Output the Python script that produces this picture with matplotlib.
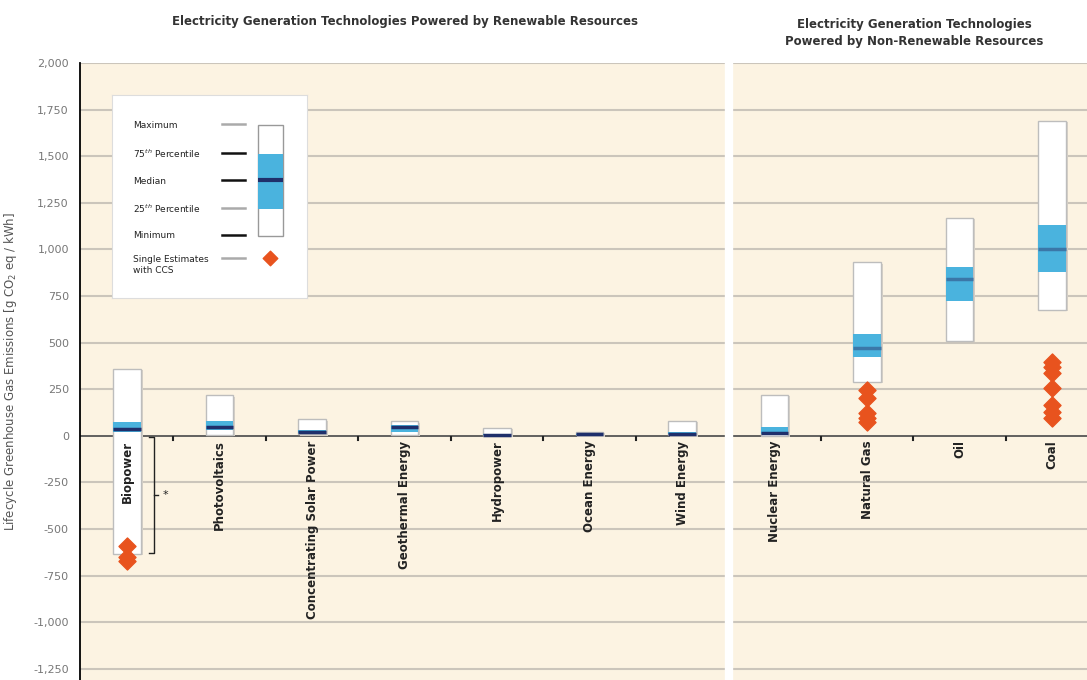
import numpy as np
import matplotlib.pyplot as plt
from matplotlib.patches import Rectangle

# Données (g CO2 eq / kWh)
categories = ['Biopower', 'Photovoltaics', 'Concentrating Solar Power', 'Geothermal Energy',
              'Hydropower', 'Ocean Energy', 'Wind Energy',
              'Nuclear Energy', 'Natural Gas', 'Oil', 'Coal']
v_min = [-633, 5, 7, 6, 0, 2, 2, 1, 290, 510, 675]
v_p25 = [18, 29, 14, 20, 3, 6, 8, 8, 422, 722, 877]
v_med = [37, 46, 22, 45, 4, 8, 12, 16, 469, 840, 1001]
v_p75 = [75, 80, 32, 57, 7, 9, 20, 45, 548, 907, 1130]
v_max = [360, 217, 89, 79, 43, 23, 81, 220, 930, 1170, 1689]

# Estimations avec CCS
ccs_bio = [-590, -650, -670]
ccs_gas = [245, 205, 120, 95, 75]
ccs_coal = [396, 370, 335, 255, 165, 125, 98]

yticks = np.arange(-1250, 2001, 250)

bg = '#FCF3E2'
blue = '#4AB3DE'
navy = '#1F2F6B'
steel = '#3B77A8'
orange = '#E8531E'

fig = plt.figure(figsize=(10.87, 6.8), dpi=100)
ax = fig.add_axes([0.0736, 0.0, 0.9264, 0.9074])
ax.set_facecolor(bg)
ax.set_xlim(-0.508, 10.378)
ax.set_ylim(-1310, 2000)

for y in yticks:
    if y == 0:
        continue
    ax.axhline(y, color='#CBC5BB', lw=1.5, zorder=1)
ax.axhline(0, color='#555555', lw=1.3, zorder=2)
ax.axvline(6.51, color='white', lw=6, zorder=3)

w = 0.3
for i in range(len(categories)):
    med_col = navy if i < 8 else steel
    # ombre
    ax.add_patch(Rectangle((i - w / 2 + 0.02, v_min[i] - 8), w, v_max[i] - v_min[i],
                           facecolor='#D8D2C8', edgecolor='none', zorder=3))
    ax.add_patch(Rectangle((i - w / 2, v_min[i]), w, v_max[i] - v_min[i],
                           facecolor='white', edgecolor='#BDBDBD', lw=1, zorder=4))
    ax.add_patch(Rectangle((i - w / 2, v_p25[i]), w, v_p75[i] - v_p25[i],
                           facecolor=blue, edgecolor='none', zorder=5))
    ax.plot([i - w / 2, i + w / 2], [v_med[i], v_med[i]], color=med_col, lw=2.5,
            solid_capstyle='butt', zorder=6)

ax.scatter(np.zeros(len(ccs_bio)), ccs_bio, marker='D', s=75, color=orange, zorder=7)
ax.scatter(np.full(len(ccs_gas), 8), ccs_gas, marker='D', s=75, color=orange, zorder=7)
ax.scatter(np.full(len(ccs_coal), 10), ccs_coal, marker='D', s=75, color=orange, zorder=7)

# étiquettes des catégories
for i, c in enumerate(categories):
    ax.text(i, -25, c, rotation=90, ha='center', va='top', fontsize=8.5,
            fontweight='bold', color='#222222', zorder=8)

# petits repères entre catégories
for xt in [0.5, 1.5, 2.5, 3.5, 4.5, 5.5, 7.5, 8.5, 9.5]:
    ax.plot([xt, xt], [-5, -22], color='#222222', lw=1.5, zorder=3)

# accolade biopower
bx = 0.24
ax.plot([bx, bx + 0.05, bx + 0.05, bx], [-5, -5, -628, -628], color='#222222', lw=1, zorder=3)
ax.plot([bx + 0.05, bx + 0.1], [-316, -316], color='#222222', lw=1, zorder=3)
ax.text(bx + 0.14, -316, '*', ha='left', va='center', fontsize=8, color='#222222')

ax.set_xticks([])
ax.set_yticks(yticks)
ax.set_yticklabels([f'{y:,}' for y in yticks], fontsize=8, color='#777777')
ax.tick_params(axis='y', length=0, pad=8)
for s in ['top', 'right', 'bottom']:
    ax.spines[s].set_visible(False)
ax.spines['left'].set_color('black')
ax.spines['left'].set_linewidth(1.3)
ax.set_ylabel('Lifecycle Greenhouse Gas Emissions [g CO$_2$ eq / kWh]', fontsize=8.5,
              color='#555555', labelpad=10)

# titres
fig.text(405 / 1087, 1 - 22 / 680, 'Electricity Generation Technologies Powered by Renewable Resources',
         ha='center', va='center', fontsize=8.5, fontweight='bold', color='#333333')
fig.text(914 / 1087, 1 - 33 / 680, 'Electricity Generation Technologies\nPowered by Non-Renewable Resources',
         ha='center', va='center', fontsize=8.5, fontweight='bold', color='#333333', linespacing=1.4)

# légende
lax = fig.add_axes([112 / 1087, 1 - 298 / 680, 195 / 1087, 203 / 680])
lax.set_xlim(0, 195)
lax.set_ylim(203, 0)
lax.set_xticks([])
lax.set_yticks([])
lax.set_facecolor('white')
for s in lax.spines.values():
    s.set_color('#DDDDDD')
leg_items = ['Maximum', '75$^{th}$ Percentile', 'Median', '25$^{th}$ Percentile', 'Minimum',
             'Single Estimates\nwith CCS']
leg_y = [30, 59, 86, 114, 141, 170]
leg_col = ['#AAAAAA', '#111111', '#111111', '#AAAAAA', '#111111', '#AAAAAA']
for t, yy, c in zip(leg_items, leg_y, leg_col):
    lax.text(21, yy, t, ha='left', va='center', fontsize=6.5, color='#222222')
    ly = yy - 1 if yy < 160 else 163
    lax.plot([110, 133], [ly, ly], color=c, lw=1.8)
lax.add_patch(Rectangle((146, 30), 25, 111, facecolor='white', edgecolor='#999999', lw=1))
lax.add_patch(Rectangle((146, 59), 25, 55, facecolor=blue, edgecolor='none'))
lax.plot([146, 171], [85, 85], color=navy, lw=3, solid_capstyle='butt')
lax.scatter([158], [163], marker='D', s=55, color=orange)

fig.savefig('out.png', dpi=100, facecolor='white')
